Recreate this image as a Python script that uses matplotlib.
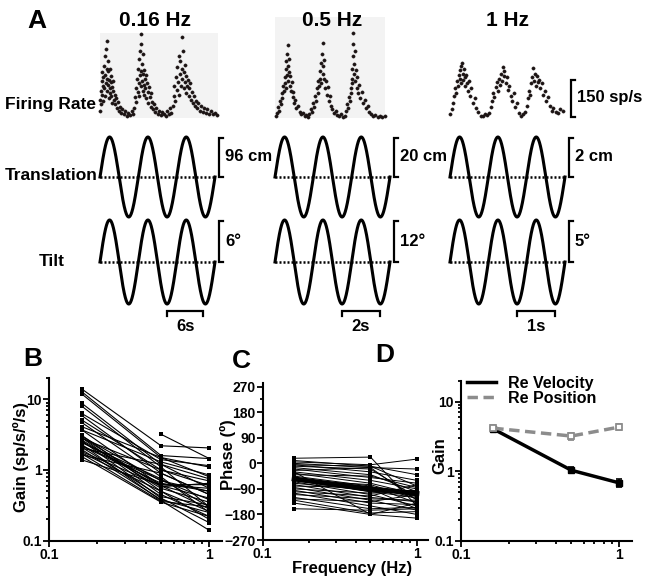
import numpy as np
import matplotlib
matplotlib.use('Agg')
import matplotlib.pyplot as plt
from matplotlib.ticker import FixedLocator, NullFormatter, LogLocator, MultipleLocator
from matplotlib.lines import Line2D

# ---------------- data ----------------
freq_A = [0.16, 0.5, 1.0]
title_A = ['0.16 Hz', '0.5 Hz', '1 Hz']
trans_amp = [96, 20, 2]          # cm
trans_lbl = ['96 cm', '20 cm', '2 cm']
tilt_amp = [6, 12, 5]            # deg
tilt_lbl = ['6°', '12°', '5°']
time_bar = [6, 2, 1]             # s
time_lbl = ['6s', '2s', '1s']
n_cycles = 3
rate_bar = 150                   # sp/s
rate_lbl = '150 sp/s'

# firing rate samples: (phase in stimulus cycles, rate in sp/s)
fr_016 = [(0.00, 30), (0.01, 75), (0.02, 110), (0.03, 55), (0.04, 150), (0.05, 95), (0.06, 185), (0.07, 130),
          (0.08, 70), (0.09, 165), (0.10, 210), (0.11, 120), (0.12, 250), (0.13, 90), (0.14, 175), (0.15, 140),
          (0.16, 280), (0.17, 200), (0.18, 312), (0.18, 110), (0.19, 160), (0.20, 230), (0.21, 135), (0.22, 190),
          (0.23, 80), (0.24, 155), (0.25, 120), (0.26, 200), (0.27, 100), (0.28, 145), (0.29, 170), (0.30, 90),
          (0.31, 125), (0.32, 60), (0.34, 110), (0.35, 150), (0.37, 75), (0.38, 95), (0.40, 55), (0.42, 80),
          (0.44, 40), (0.46, 65), (0.49, 30), (0.52, 45), (0.55, 20), (0.58, 35), (0.62, 15), (0.66, 28),
          (0.70, 10), (0.74, 22), (0.78, 14), (0.83, 30), (0.87, 18),
          (0.89, 40), (0.91, 85), (0.93, 120), (0.95, 65), (0.97, 160), (0.99, 105), (1.00, 200), (1.01, 140),
          (1.02, 240), (1.03, 90), (1.04, 175), (1.05, 270), (1.06, 130), (1.07, 340), (1.07, 190), (1.08, 300),
          (1.09, 150), (1.10, 220), (1.11, 110), (1.12, 180), (1.13, 260), (1.14, 135), (1.15, 195), (1.16, 95),
          (1.17, 160), (1.18, 120), (1.20, 175), (1.21, 80), (1.23, 140), (1.24, 105), (1.26, 60), (1.28, 125),
          (1.30, 85), (1.32, 45), (1.34, 100), (1.36, 65), (1.38, 35), (1.41, 55), (1.44, 25), (1.47, 40),
          (1.51, 15), (1.55, 30), (1.59, 12), (1.63, 25), (1.67, 18), (1.71, 8), (1.75, 30), (1.79, 15),
          (1.83, 40), (1.86, 22),
          (1.90, 50), (1.92, 90), (1.94, 130), (1.96, 70), (1.98, 165), (2.00, 115), (2.02, 205), (2.03, 145),
          (2.05, 250), (2.06, 95), (2.08, 180), (2.10, 230), (2.11, 130), (2.13, 328), (2.14, 200), (2.15, 160),
          (2.16, 270), (2.18, 120), (2.19, 185), (2.21, 145), (2.22, 215), (2.24, 100), (2.25, 170), (2.27, 130),
          (2.29, 155), (2.31, 90), (2.33, 120), (2.35, 140), (2.37, 75), (2.39, 105), (2.42, 60), (2.44, 90),
          (2.47, 50), (2.50, 70), (2.53, 40), (2.56, 60), (2.60, 30), (2.64, 50), (2.68, 25), (2.72, 42),
          (2.76, 20), (2.80, 35), (2.85, 15), (2.90, 28), (2.95, 18), (3.00, 22), (3.05, 12)]

fr_05 = [(0.03, 8), (0.06, 20), (0.09, 45), (0.11, 30), (0.13, 70), (0.15, 55), (0.17, 100), (0.19, 80),
         (0.21, 130), (0.23, 110), (0.25, 165), (0.26, 140), (0.28, 200), (0.29, 120), (0.30, 230), (0.31, 175),
         (0.32, 260), (0.33, 150), (0.34, 296), (0.35, 210), (0.36, 185), (0.37, 240), (0.38, 130), (0.40, 170),
         (0.42, 110), (0.44, 145), (0.46, 85), (0.48, 105), (0.50, 60), (0.53, 75), (0.56, 40), (0.60, 50),
         (0.64, 25), (0.68, 15), (0.72, 20), (0.77, 8), (0.82, 12),
         (0.86, 5), (0.90, 18), (0.93, 35), (0.96, 25), (0.99, 60), (1.02, 45), (1.05, 90), (1.07, 70),
         (1.09, 120), (1.11, 100), (1.13, 150), (1.15, 130), (1.17, 190), (1.18, 160), (1.20, 225), (1.21, 140),
         (1.22, 260), (1.24, 180), (1.25, 304), (1.26, 210), (1.28, 160), (1.29, 235), (1.31, 120), (1.33, 150),
         (1.35, 95), (1.37, 125), (1.40, 70), (1.43, 90), (1.46, 50), (1.50, 35), (1.54, 20), (1.58, 28),
         (1.63, 12), (1.68, 8), (1.73, 15), (1.78, 6),
         (1.83, 10), (1.86, 30), (1.89, 55), (1.91, 40), (1.93, 85), (1.95, 70), (1.97, 120), (1.98, 100),
         (2.00, 160), (2.01, 200), (2.02, 140), (2.03, 250), (2.04, 345), (2.04, 300), (2.05, 180), (2.06, 220),
         (2.08, 270), (2.09, 150), (2.11, 195), (2.13, 120), (2.15, 165), (2.17, 100), (2.20, 135), (2.23, 80),
         (2.26, 105), (2.30, 60), (2.34, 75), (2.38, 40), (2.42, 50), (2.46, 25), (2.51, 15), (2.56, 8),
         (2.62, 12), (2.68, 5), (2.74, 10), (2.80, 6), (2.86, 8)]

fr_1 = [(0.00, 15), (0.04, 35), (0.08, 60), (0.11, 90), (0.14, 120), (0.16, 100), (0.19, 150), (0.21, 130),
        (0.23, 175), (0.25, 160), (0.27, 195), (0.28, 140), (0.30, 210), (0.31, 223), (0.33, 180), (0.34, 155),
        (0.36, 200), (0.38, 165), (0.40, 130), (0.42, 175), (0.44, 140), (0.47, 110), (0.50, 150), (0.53, 90),
        (0.56, 120), (0.60, 60), (0.64, 80), (0.68, 40), (0.73, 25), (0.80, 10), (0.86, 8), (0.92, 18), (0.97, 12),
        (1.03, 20), (1.07, 45), (1.10, 70), (1.13, 100), (1.16, 85), (1.19, 125), (1.22, 145), (1.24, 110),
        (1.27, 160), (1.30, 135), (1.33, 180), (1.35, 150), (1.38, 207), (1.40, 170), (1.42, 190), (1.45, 140),
        (1.48, 165), (1.51, 115), (1.54, 130), (1.58, 90), (1.62, 70), (1.66, 100), (1.70, 45), (1.74, 60),
        (1.80, 20), (1.86, 10), (1.91, 15),
        (1.96, 25), (2.00, 50), (2.03, 80), (2.06, 110), (2.09, 95), (2.12, 140), (2.15, 165), (2.17, 203),
        (2.19, 150), (2.21, 180), (2.24, 130), (2.27, 170), (2.30, 145), (2.33, 155), (2.36, 120), (2.39, 140),
        (2.43, 95), (2.47, 110), (2.51, 70), (2.55, 85), (2.60, 50), (2.65, 30), (2.70, 40), (2.76, 25),
        (2.82, 20), (2.88, 35), (2.95, 30)]
firing = [fr_016, fr_05, fr_1]

# panel B/C: per-cell gain (sp/s/deg/s) and phase (deg) at 0.16, 0.5, 1 Hz
freq_BC = [0.16, 0.5, 1.0]
gain_cells = [
    [14.0, 2.2, 2.05], [12.8, 1.6, 1.45], [11.9, 1.5, 0.8], [8.8, 1.2, 0.55], [8.0, 1.1, 0.3],
    [6.3, 1.4, 1.15], [5.9, 0.9, 0.45], [5.1, 1.0, 0.6], [4.7, 0.8, 0.25], [4.1, 1.5, 1.1],
    [3.7, 0.6, 0.28], [3.7, 1.3, 0.85], [3.1, 0.5, 0.2], [3.0, 0.7, 0.5], [2.87, 0.45, 0.22],
    [2.8, 1.0, 0.7], [2.66, 0.55, 0.35], [2.6, 0.4, 0.18], [2.5, 0.62, 0.62], [2.44, 0.75, 0.3],
    [2.3, 0.37, 0.14], [2.19, 0.65, 0.5], [2.1, 0.42, 0.32], [2.03, 1.2, 0.75], [1.95, 0.38, 0.25],
    [1.82, 0.6, 0.4], [1.75, 0.5, 0.26], [1.63, 0.9, 0.45], [1.55, 0.35, 0.22], [1.39, 0.62, 0.55],
    [np.nan, 3.2, 1.45], [2.9, 0.58, 0.65], [2.2, 0.72, 0.38], [1.7, 0.36, 0.3]]
phase_cells = [
    [18, 22, -150], [10, -10, -80], [5, -5, 15], [0, -15, -20], [-5, -10, -40], [-5, -30, -60],
    [-10, -20, -120], [-15, -40, -100], [-20, -50, -70], [-25, -15, -130], [-30, -60, -90],
    [-35, -70, -110], [-40, -45, -85], [-45, -80, -140], [-50, -90, -160], [-55, -100, -95],
    [-60, -75, -125], [-65, -110, -150], [-70, -95, -105], [-75, -120, -135], [-80, -85, -115],
    [-85, -130, -165], [-90, -105, -100], [-95, -140, -145], [-100, -115, -75], [-105, -150, -180],
    [-110, -125, -130], [-120, -160, -155], [-125, -135, -110], [-130, -175, -170], [-140, -180, -193],
    [-160, -165, -160], [-60, -100, -120], [-30, -180, -140]]
phase_mean = [-55, -90, -106]

# panel D: population gain
freq_D = [0.16, 0.5, 1.0]
gain_vel = [4.05, 1.03, 0.68]
gain_vel_err = [0.3, 0.1, 0.08]
gain_pos = [4.15, 3.2, 4.3]
gain_pos_err = [0.4, 0.35, 0.45]
legend_lbl = ['Re Velocity', 'Re Position']

# ---------------- figure ----------------
W, H = 649, 586
plt.rcParams['font.family'] = ['Liberation Sans', 'DejaVu Sans']
plt.rcParams['font.weight'] = 'bold'
plt.rcParams['axes.labelweight'] = 'bold'
fig = plt.figure(figsize=(W / 100, H / 100), dpi=100)
fig.patch.set_facecolor('white')


def box(x0, y0, x1, y1):
    return fig.add_axes([x0 / W, 1 - y1 / H, (x1 - x0) / W, (y1 - y0) / H])


def ftext(x, y, s, **kw):
    kw.setdefault('fontweight', 'bold')
    return fig.text(x / W, 1 - y / H, s, **kw)


def blank(ax):
    ax.set_axis_off()
    ax.patch.set_alpha(0)


col_x0 = [100, 275, 450]
cyc_px = 38.33
span_px = n_cycles * cyc_px
fr_boxes = [(100, 33, 218, 118), (275, 17, 385, 118), (450, 33, 567, 118)]
fr_bg = ['#f3f3f3', '#f3f3f3', None]
px_per_bar = 37.0
dot_col = '#1c1414'

for c in range(3):
    T = 1.0 / freq_A[c]
    # firing rate
    x0, y0, x1, y1 = fr_boxes[c]
    ax = box(x0, y0, x1, y1)
    ax.set_xlim(0, (x1 - x0) / cyc_px * T)
    ax.set_ylim(0, (y1 - y0) / px_per_bar * rate_bar)
    ax.set_axis_off()
    if fr_bg[c]:
        ax.set_axis_on()
        for s in ax.spines.values():
            s.set_visible(False)
        ax.set_xticks([]); ax.set_yticks([])
        ax.set_facecolor(fr_bg[c])
    ph = np.array([p for p, r in firing[c]])
    rt = np.array([r for p, r in firing[c]])
    ax.plot(ph * T, rt, 'o', color=dot_col, ms=2.3, mew=0.4, mec=dot_col, clip_on=False)
    if c == 2:
        xb = (571 - x0) / cyc_px * T
        tk = 4 / cyc_px * T
        ax.plot([xb + tk, xb, xb, xb + tk], [rate_bar + 5, rate_bar + 5, 5, 5], color='k', lw=1.6,
                clip_on=False, solid_joinstyle='miter')
        ax.text(xb + 1.6 * tk, rate_bar / 2 + 8, rate_lbl, fontsize=12, fontweight='bold',
                ha='left', va='center')

    t = np.linspace(0, n_cycles * T, 600)
    xs = col_x0[c]
    # translation and tilt traces
    rows = [(133, 221, 44 / 40, trans_amp[c], trans_lbl[c]),
            (216, 308, 46 / 42, tilt_amp[c], tilt_lbl[c])]
    for r, (ya, yb, fac, amp, lbl) in enumerate(rows):
        ax = box(xs, ya, xs + span_px, yb)
        blank(ax)
        ax.set_xlim(0, n_cycles * T)
        ax.set_ylim(-amp * fac, amp * fac)
        ax.plot(t, amp * np.sin(2 * np.pi * freq_A[c] * t), color='k', lw=2.2, clip_on=False)
        ax.plot([0, n_cycles * T], [0, 0], color='k', lw=1.8, ls=(0, (0.8, 0.8)), clip_on=False)
        d = n_cycles * T / span_px
        xb = n_cycles * T + 4 * d
        ax.plot([xb + 4 * d, xb, xb, xb + 4 * d], [amp * 0.98, amp * 0.98, 0, 0], color='k', lw=1.6,
                clip_on=False, solid_joinstyle='miter')
        ax.text(xb + 6 * d, amp * 0.5, lbl, fontsize=12, fontweight='bold', ha='left', va='center')
        if r == 1:
            tr = ax.get_xaxis_transform()
            tb0 = 1.74 * T
            ax.plot([tb0, tb0, tb0 + time_bar[c], tb0 + time_bar[c]], [-0.087, -0.033, -0.033, -0.087],
                    color='k', lw=1.6, transform=tr, clip_on=False, solid_joinstyle='miter')
            ax.text(tb0 + time_bar[c] / 2, -0.2, time_lbl[c], transform=tr, fontsize=12,
                    fontweight='bold', ha='center', va='center')

for x, s in zip([155, 332, 508], title_A):
    ftext(x, 21, s, fontsize=15, ha='center', va='center')
ftext(5, 105, 'Firing Rate', fontsize=12.5, ha='left', va='center')
ftext(5, 176, 'Translation', fontsize=12.5, ha='left', va='center')
ftext(52, 262, 'Tilt', fontsize=12.5, ha='center', va='center')

# panel letters
ftext(37, 21, 'A', fontsize=19, ha='center', va='center')
ftext(33, 359, 'B', fontsize=19, ha='center', va='center')
ftext(241, 361, 'C', fontsize=19, ha='center', va='center')
ftext(385, 355, 'D', fontsize=19, ha='center', va='center')


def style(ax):
    for s in ['top', 'right']:
        ax.spines[s].set_visible(False)
    for s in ['left', 'bottom']:
        ax.spines[s].set_linewidth(1.5)
    ax.tick_params(which='both', direction='out', width=1.3, labelsize=10, pad=1)
    ax.tick_params(which='major', length=4)
    ax.tick_params(which='minor', length=2.5)
    ax.patch.set_alpha(0)


def logx(ax):
    ax.set_xscale('log')
    ax.xaxis.set_major_locator(FixedLocator([0.1, 1]))
    ax.set_xticklabels(['0.1', '1'])
    ax.xaxis.set_minor_locator(FixedLocator([0.2, 0.3, 0.4, 0.5, 0.6, 0.7, 0.8, 0.9]))
    ax.xaxis.set_minor_formatter(NullFormatter())


def logy(ax):
    ax.set_yscale('log')
    ax.yaxis.set_major_locator(FixedLocator([0.1, 1, 10]))
    ax.set_yticklabels(['0.1', '1', '10'])
    ax.yaxis.set_minor_locator(LogLocator(base=10, subs=np.arange(2, 10)))
    ax.yaxis.set_minor_formatter(NullFormatter())


# B
axB = box(49, 378, 222, 540.7)
for g in gain_cells:
    axB.plot(freq_BC, g, '-s', color='k', lw=0.8, ms=2.3, mew=0, clip_on=False)
logx(axB); logy(axB)
axB.set_xlim(0.1, 1.2); axB.set_ylim(0.1, 20)
style(axB)
ftext(21, 457, 'Gain (sp/s/º/s)', fontsize=12, rotation=90, ha='center', va='center')

# C
axC = box(262.7, 383, 428, 540)
for p in phase_cells:
    axC.plot(freq_BC, p, '-s', color='k', lw=0.7, ms=2.2, mew=0)
axC.plot(freq_BC, phase_mean, '-', color='k', lw=3.6)
logx(axC)
axC.set_xlim(0.1, 1.18); axC.set_ylim(-270, 283)
axC.yaxis.set_major_locator(FixedLocator([-270, -180, -90, 0, 90, 180, 270]))
axC.yaxis.set_minor_locator(MultipleLocator(45))
style(axC)
ftext(228, 455, 'Phase (º)', fontsize=12, rotation=90, ha='center', va='center')
ftext(352, 568, 'Frequency (Hz)', fontsize=12, ha='center', va='center')

# D
gray = '#8c8c8c'
axD = box(461, 380.7, 632, 540.7)
axD.errorbar(freq_D, gain_vel, yerr=gain_vel_err, fmt='-s', color='k', lw=2.5, ms=4.5,
             capsize=2, elinewidth=1.2, capthick=1.2)
axD.errorbar(freq_D, gain_pos, yerr=gain_pos_err, fmt='--s', color=gray, lw=2.5, ms=4.5,
             mfc='white', mec=gray, mew=1.3, capsize=2, elinewidth=1.2, capthick=1.2, dashes=(3, 1.6))
logx(axD); logy(axD)
axD.set_xlim(0.1, 1.21); axD.set_ylim(0.1, 20)
style(axD)
h1 = Line2D([], [], color='k', lw=2.5)
h2 = Line2D([], [], color=gray, lw=2.5, dashes=(3, 1.6))
axD.legend([h1, h2], legend_lbl, loc='upper left', bbox_to_anchor=(0.035, 1.03), frameon=False,
           prop={'weight': 'bold', 'size': 11.5}, handlelength=1.8, handletextpad=0.75,
           labelspacing=0.0, borderpad=0, borderaxespad=0)
ftext(440, 456, 'Gain', fontsize=12, rotation=90, ha='center', va='center')

fig.savefig('out.png', dpi=100, facecolor='white')
